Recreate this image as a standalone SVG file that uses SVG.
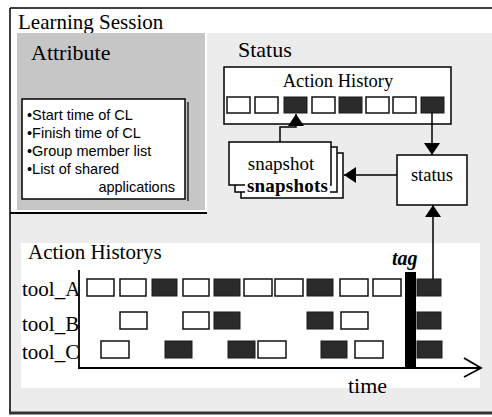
<svg xmlns="http://www.w3.org/2000/svg" width="492" height="417" viewBox="0 0 492 417">
<style>
.serif{font-family:"Liberation Serif","Times New Roman",serif;fill:#000}
.sans{font-family:"Liberation Sans",Arial,sans-serif;fill:#000;font-size:14.5px}
.box{fill:#fff;stroke:#000;stroke-width:1.5}
.w{fill:#fff;stroke:#111;stroke-width:1.5}
.d{fill:#2b2b2b;stroke:#1a1a1a;stroke-width:1}
.conn{fill:none;stroke:#000;stroke-width:1.5}
</style>
<defs>
<marker id="ah" markerUnits="userSpaceOnUse" markerWidth="13" markerHeight="16" refX="12" refY="8" orient="auto">
<path d="M0,0 L12,8 L0,16 z" fill="#000"/>
</marker>
</defs>

<!-- background panels -->
<g id="frame">
<rect x="0" y="0" width="492" height="417" fill="#fff"/>
<rect x="207" y="33" width="285" height="212" fill="#ececec"/>
<rect x="10" y="213" width="482" height="199" fill="#ececec"/>
<rect x="21" y="243" width="459" height="145" fill="#fff"/>
<line x1="10" y1="8" x2="492" y2="8" stroke="#000" stroke-width="1.5"/>
<line x1="10" y1="8" x2="10" y2="413" stroke="#000" stroke-width="1.5"/>
<line x1="9" y1="413" x2="492" y2="413" stroke="#333" stroke-width="3"/>
<text class="serif" x="18" y="29" font-size="21">Learning Session</text>
</g>

<g id="attribute">
<rect x="17" y="33" width="188" height="177" fill="#c6c6c6"/>
<line x1="10" y1="213" x2="207" y2="213" stroke="#000" stroke-width="2"/>
<text class="serif" x="31" y="60" font-size="22">Attribute</text>
<line x1="188" y1="102" x2="188" y2="201" stroke="#000" stroke-width="1.2"/>
<rect class="box" x="22" y="99" width="163" height="100"/>
<text class="sans" x="27" y="120">•Start time of CL</text>
<text class="sans" x="27" y="138">•Finish time of CL</text>
<text class="sans" x="27" y="156">•Group member list</text>
<text class="sans" x="27" y="174">•List of shared</text>
<text class="sans" x="175" y="192" text-anchor="end">applications</text>
</g>

<g id="status-panel">
<text class="serif" x="238" y="57" font-size="22">Status</text>
</g>

<g id="action-history">
<rect class="box" x="224" y="67" width="227" height="57"/>
<text class="serif" x="338" y="87" font-size="18.5" text-anchor="middle">Action History</text>
<rect class="w" x="227" y="97" width="23" height="16"/>
<rect class="w" x="255" y="97" width="23" height="16"/>
<rect class="d" x="284" y="97" width="23" height="16"/>
<rect class="w" x="312" y="97" width="23" height="16"/>
<rect class="d" x="339" y="97" width="23" height="16"/>
<rect class="w" x="366" y="97" width="23" height="16"/>
<rect class="w" x="393" y="97" width="23" height="16"/>
<rect class="d" x="421" y="97" width="23" height="16"/>
</g>

<g id="snapshots">
<rect class="box" x="241" y="153" width="102" height="45"/>
<rect class="box" x="235" y="147" width="102" height="45"/>
<rect class="box" x="229" y="142" width="102" height="43"/>
<text class="serif" x="281" y="170" font-size="19" text-anchor="middle">snapshot</text>
<rect x="245" y="179" width="85" height="16" fill="#fff"/>
<text class="serif" x="247" y="192" font-size="19" font-weight="bold" letter-spacing="0.2">snapshots</text>
</g>

<g id="status">
<rect class="box" x="397" y="155" width="70" height="50"/>
<text class="serif" x="432" y="181" font-size="18.5" text-anchor="middle">status</text>
</g>

<g id="action-historys">
<text class="serif" x="28" y="259" font-size="21">Action Historys</text>
<text class="serif" x="22" y="296" font-size="21">tool_A</text>
<text class="serif" x="22" y="331" font-size="21">tool_B</text>
<text class="serif" x="22" y="359" font-size="21">tool_C</text>
<rect x="80" y="268" width="399" height="99" fill="#fff"/>
<line x1="79" y1="270" x2="79" y2="369" stroke="#000" stroke-width="1.8"/>
<polyline points="79,368 480,368" fill="none" stroke="#000" stroke-width="1.8"/>
<polyline points="464,358 481,368 464,377" fill="none" stroke="#000" stroke-width="1.8"/>
<!-- row A -->
<rect class="w" x="87" y="279" width="27" height="17"/>
<rect class="w" x="120" y="279" width="26" height="17"/>
<rect class="d" x="152" y="279" width="25" height="17"/>
<rect class="w" x="183" y="279" width="26" height="17"/>
<rect class="d" x="214" y="279" width="26" height="17"/>
<rect class="w" x="244" y="279" width="28" height="17"/>
<rect class="w" x="275" y="279" width="28" height="17"/>
<rect class="d" x="307" y="279" width="26" height="17"/>
<rect class="w" x="340" y="279" width="28" height="17"/>
<rect class="w" x="373" y="279" width="28" height="17"/>
<rect class="d" x="417" y="279" width="24" height="17"/>
<!-- row B -->
<rect class="w" x="120" y="312" width="27" height="17"/>
<rect class="w" x="183" y="312" width="26" height="17"/>
<rect class="d" x="214" y="312" width="26" height="17"/>
<rect class="d" x="307" y="312" width="26" height="17"/>
<rect class="w" x="341" y="312" width="27" height="17"/>
<rect class="d" x="417" y="312" width="24" height="17"/>
<!-- row C -->
<rect class="w" x="101" y="341" width="28" height="17"/>
<rect class="d" x="165" y="341" width="27" height="17"/>
<rect class="d" x="228" y="341" width="27" height="17"/>
<rect class="w" x="258" y="341" width="28" height="17"/>
<rect class="d" x="321" y="341" width="26" height="17"/>
<rect class="w" x="355" y="341" width="28" height="17"/>
<rect class="d" x="417" y="341" width="25" height="17"/>
<!-- tag -->
<rect x="405" y="272" width="11" height="96" fill="#000"/>
<text class="serif" x="392" y="265" font-size="20" font-weight="bold" font-style="italic">tag</text>
<text class="serif" x="348" y="393" font-size="22">time</text>
</g>

<g id="connectors">
<path class="conn" d="M280,142 V127 H296 V114" marker-end="url(#ah)"/>
<path class="conn" d="M432,113 V155" marker-end="url(#ah)"/>
<path class="conn" d="M397,175 H344" marker-end="url(#ah)"/>
<path class="conn" d="M433,279 V205" marker-end="url(#ah)"/>
</g>
</svg>
